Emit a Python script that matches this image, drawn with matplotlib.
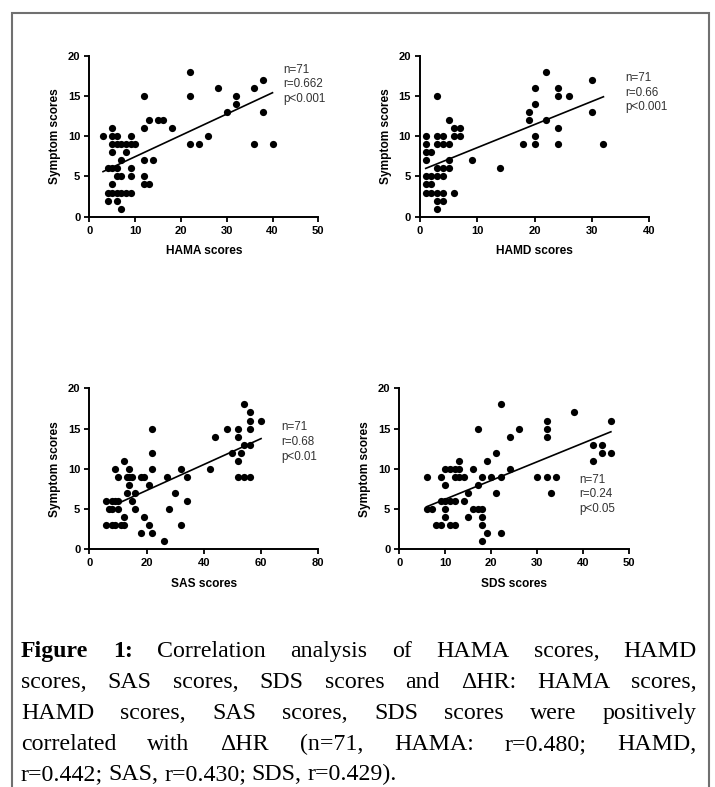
import matplotlib
matplotlib.use("Agg")
import matplotlib.pyplot as plt
from matplotlib.patches import Rectangle

# values (score, symptom score); overlapping dots count once
hama_x = [3, 5, 5, 6, 9, 5, 6, 7, 8, 9, 10, 5, 8, 7, 4, 5, 6, 9, 6, 7, 9, 5,
          4, 5, 6, 7, 8, 9, 4, 6, 7, 12, 12, 13, 12, 14, 12, 13, 12, 15, 16, 18,
          22, 22, 22, 24, 26, 28, 30, 32, 32, 36, 36, 38, 38, 40]
hama_y = [10, 11, 10, 10, 10, 9, 9, 9, 9, 9, 9, 8, 8, 7, 6, 6, 6, 6, 5, 5, 5, 4,
          3, 3, 3, 3, 3, 3, 2, 2, 1, 5, 4, 4, 7, 7, 11, 12, 15, 12, 12, 11,
          18, 15, 9, 9, 10, 16, 13, 15, 14, 16, 9, 17, 13, 9]
hama_fit_x = [3, 40]
hama_fit_y = [5.6, 15.4]

hamd_x = [1, 3, 4, 6, 7, 6, 7, 5, 3, 1, 3, 4, 5, 1, 2, 1, 5, 9, 3, 4, 5,
          1, 2, 3, 4, 1, 2, 1, 2, 3, 4, 6, 3, 4, 3, 14,
          18, 19, 19, 20, 20, 20, 20, 22, 22, 24, 24, 24, 24, 26, 30, 30, 32]
hamd_y = [10, 10, 10, 10, 10, 11, 11, 12, 15, 9, 9, 9, 9, 8, 8, 7, 7, 7, 6, 6, 6,
          5, 5, 5, 5, 4, 4, 3, 3, 3, 3, 3, 2, 2, 1, 6,
          9, 13, 12, 16, 14, 10, 9, 18, 12, 16, 15, 11, 9, 15, 17, 13, 9]
hamd_fit_x = [1, 32]
hamd_fit_y = [6.0, 14.9]

sas_x = [6, 8, 9, 10, 7, 8, 10, 6, 8, 9, 11, 12,
         9, 10, 12, 12, 13, 14, 13, 14, 15, 14, 15, 16, 16,
         18, 19, 18, 19, 21, 21, 22, 22, 22, 22,
         26, 27, 28, 30, 32, 32, 34, 34,
         42, 44, 48, 50, 52, 52, 52, 52, 53, 54, 54, 54, 56, 56, 56, 56, 56, 60]
sas_y = [6, 6, 6, 6, 5, 5, 5, 3, 3, 3, 3, 3,
         10, 9, 11, 4, 7, 10, 9, 9, 9, 8, 6, 7, 5,
         9, 9, 2, 4, 8, 3, 15, 12, 10, 2,
         1, 9, 5, 7, 10, 3, 9, 6,
         10, 14, 15, 12, 15, 14, 11, 9, 12, 18, 13, 9, 17, 16, 15, 13, 9, 16]
sas_fit_x = [10, 60]
sas_fit_y = [5.7, 13.75]

sds_x = [6, 6, 7, 8, 9, 9, 9, 10, 11, 12, 13, 13,
         10, 10, 11, 12, 10, 10, 11, 12,
         12, 13, 14, 14, 15, 15, 16, 17, 17,
         16, 17, 18, 18, 18, 18, 18, 19, 19, 20,
         21, 21, 22, 22, 22, 24, 24, 26,
         30, 32, 32, 32, 32, 33, 34, 38, 42, 42, 44, 44, 46, 46]
sds_y = [9, 5, 5, 3, 3, 9, 6, 10, 10, 10, 10, 11,
         8, 6, 6, 6, 5, 4, 3, 3,
         9, 9, 9, 6, 7, 4, 10, 15, 8,
         5, 5, 5, 9, 4, 3, 1, 11, 2, 9,
         12, 7, 18, 9, 2, 14, 10, 15,
         9, 16, 15, 14, 9, 7, 9, 17, 13, 11, 13, 12, 16, 12]
sds_fit_x = [6, 46]
sds_fit_y = [5.3, 14.6]

stats = [["n=71", "r=0.662", "p<0.001"],
         ["n=71", "r=0.66", "p<0.001"],
         ["n=71", "r=0.68", "p<0.01"],
         ["n=71", "r=0.24", "p<0.05"]]
xlabels = ["HAMA scores", "HAMD scores", "SAS scores", "SDS scores"]
xmaxes = [50, 40, 80, 50]
xsteps = [10, 10, 20, 10]

caption_lines = [
    "Figure 1: Correlation analysis of HAMA scores, HAMD",
    "scores, SAS scores, SDS scores and \u0394HR: HAMA scores,",
    "HAMD scores, SAS scores, SDS scores were positively",
    "correlated with \u0394HR (n=71, HAMA: r=0.480; HAMD,",
    "r=0.442; SAS, r=0.430; SDS, r=0.429).",
]

plt.rcParams['font.family'] = ['Liberation Sans', 'DejaVu Sans']

W, H = 715, 787
fig = plt.figure(figsize=(W / 100, H / 100), dpi=100)


def add_ax(x0, x1, y0, y1):
    # pixel box of the plotting area -> figure fraction
    return fig.add_axes([x0 / W, 1 - y0 / H, (x1 - x0) / W, (y0 - y1) / H])


axes = [add_ax(89.3, 318.3, 216.7, 55.7),
        add_ax(420, 649.3, 216.7, 55.7),
        add_ax(89.3, 318.3, 549.3, 388.3),
        add_ax(399.3, 629.3, 549.3, 388.3)]

xs = [hama_x, hamd_x, sas_x, sds_x]
ys = [hama_y, hamd_y, sas_y, sds_y]
fits = [(hama_fit_x, hama_fit_y), (hamd_fit_x, hamd_fit_y),
        (sas_fit_x, sas_fit_y), (sds_fit_x, sds_fit_y)]
# where the n/r/p block sits, in data units (left, top)
text_pos = [(42.4, 19.0), (35.8, 18.0), (67, 15.9), (39.1, 9.4)]

for i, ax in enumerate(axes):
    ax.plot(xs[i], ys[i], 'o', color='black', ms=5.2, mew=0, clip_on=False, zorder=3)
    ax.plot(fits[i][0], fits[i][1], color='black', lw=1.2, zorder=2)
    ax.set_xlim(0, xmaxes[i])
    ax.set_ylim(0, 20)
    ax.set_xticks(range(0, xmaxes[i] + 1, xsteps[i]))
    ax.set_yticks([0, 5, 10, 15, 20])
    for s in ['top', 'right']:
        ax.spines[s].set_visible(False)
    for s in ['left', 'bottom']:
        ax.spines[s].set_linewidth(1.4)
    ax.tick_params(direction='out', length=3.5, width=1.3, labelsize=8, pad=3)
    for lab in ax.get_xticklabels() + ax.get_yticklabels():
        lab.set_fontweight('bold')
    ax.set_xlabel(xlabels[i], fontsize=8.6, fontweight='bold', labelpad=7)
    ax.set_ylabel("Symptom scores", fontsize=8.6, fontweight='bold', labelpad=5)
    tx, ty = text_pos[i]
    ax.text(tx, ty, "\n".join(stats[i]), fontsize=8.4, color='#333333',
            va='top', ha='left', linespacing=1.3, clip_on=False)

# frame around the figure block (open at the bottom)
fig.add_artist(Rectangle((12 / W, -0.1), (709 - 12) / W, 1.1 - 13 / H,
                         transform=fig.transFigure, fill=False,
                         ec='#707070', lw=1.5))

# justified caption
renderer = fig.canvas.get_renderer()
left, right = 21, 697
baselines = [657, 688, 719, 750, 780]
cap_font = ['Liberation Serif', 'DejaVu Serif']
for li, line in enumerate(caption_lines):
    words = line.split(" ")
    texts = []
    for wi, w in enumerate(words):
        bold = li == 0 and wi < 2
        t = fig.text(0, 0, w, fontsize=17.2, family=cap_font,
                     fontweight='bold' if bold else 'normal',
                     va='baseline', ha='left')
        texts.append(t)
    widths = [t.get_window_extent(renderer).width for t in texts]
    if li < len(caption_lines) - 1:
        gap = (right - left - sum(widths)) / (len(words) - 1)
    else:
        gap = 5.5
    x = left
    for t, w in zip(texts, widths):
        t.set_position((x / W, 1 - baselines[li] / H))
        x += w + gap

fig.savefig('out.png', dpi=100)
